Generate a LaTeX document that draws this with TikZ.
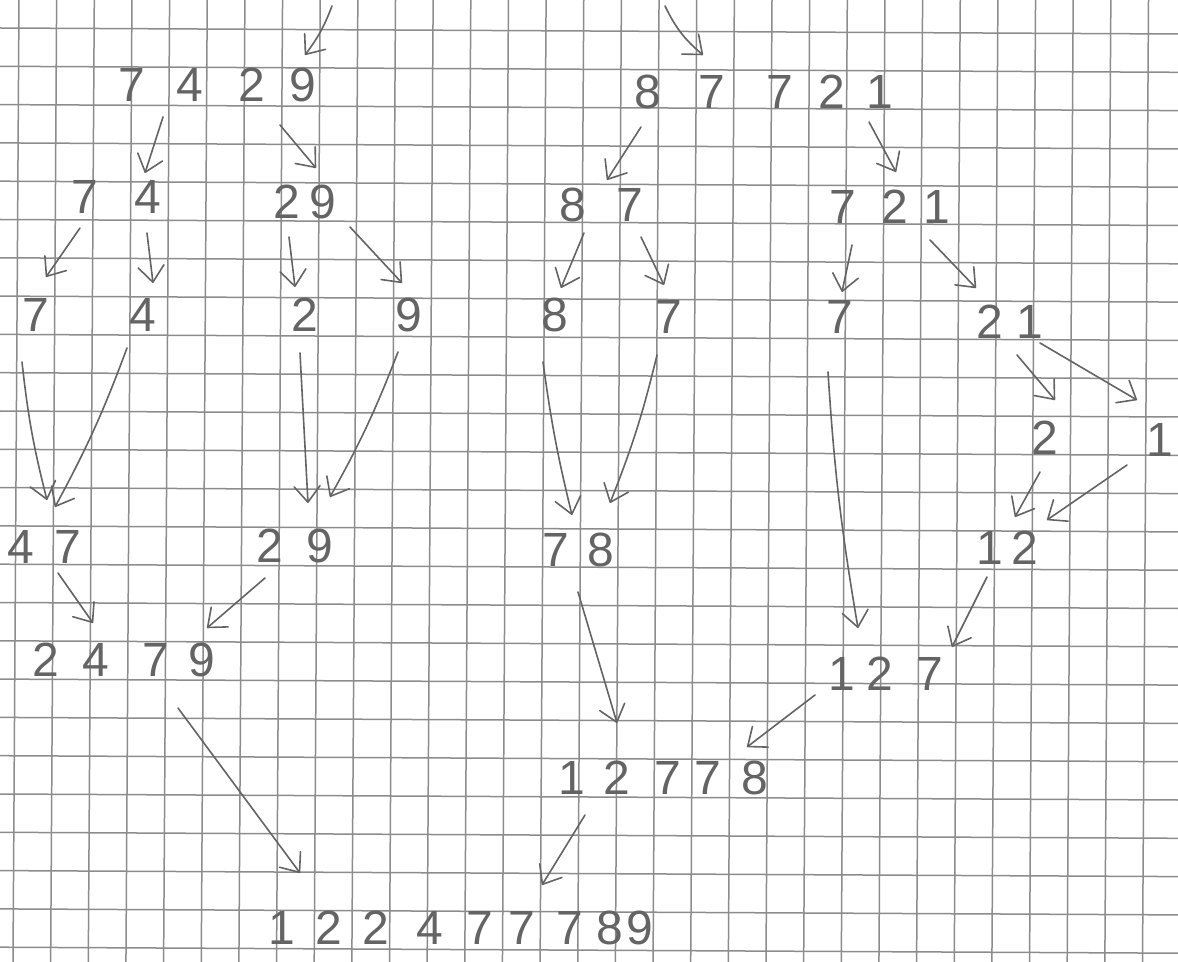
\documentclass[tikz,border=0pt]{standalone}
\usepackage{fontspec}
\setmainfont{Liberation Sans}
\usetikzlibrary{arrows.meta}
\definecolor{pen}{RGB}{100,100,100}
\definecolor{gridc}{RGB}{140,140,140}
\begin{document}
\begin{tikzpicture}[x=0.5pt,y=-0.5pt,
  num/.style={font=\fontsize{24}{24}\selectfont, text=pen, inner sep=0pt, anchor=center},
  arr/.style={draw=pen, line width=0.8pt, line cap=round, -{Straight Barb[length=8pt,width=13pt,round]}},
  gridline/.style={draw=gridc, line width=0.75pt}]
\useasboundingbox (0,0) rectangle (1178,962);
\fill[white] (0,0) rectangle (1178,962);
% squared paper
\foreach \k in {0,...,31} \draw[gridline] ({19+37.65*\k},0) -- ({13+37.65*\k},962);
\foreach \k in {-1,...,24} \draw[gridline] (0,{28+38.3*\k}) -- (1178,{34+38.3*\k});

% numbers
\node[num] (n7429)  at (217.5,85) {7\hspace{15.7pt}4\hspace{17.7pt}2\hspace{12.2pt}9};
\node[num] (n87721) at (764,92)   {8\hspace{18.7pt}7\hspace{20.7pt}7\hspace{12.7pt}2\hspace{10.7pt}1};
\node[num] (n74)    at (116.5,197){7\hspace{18.2pt}4};
\node[num] (n29a)   at (305,202)  {2\hspace{4.7pt}9};
\node[num] (n87)    at (601.5,205){8\hspace{15.2pt}7};
\node[num] (n721)   at (890,207)  {7\hspace{12.7pt}2\hspace{7.7pt}1};
\node[num] (s7)     at (36,315)   {7};
\node[num] (s4)     at (143,315)  {4};
\node[num] (s2)     at (305,315)  {2};
\node[num] (s9)     at (409,315)  {9};
\node[num] (s8)     at (555,315)  {8};
\node[num] (s7b)    at (669,317)  {7};
\node[num] (s7c)    at (840,317)  {7};
\node[num] (n21)    at (1010,322) {2\hspace{6.7pt}1};
\node[num] (s2b)    at (1045,438) {2};
\node[num] (s1)     at (1160,440) {1};
\node[num] (n12)    at (1007,548) {1\hspace{4.2pt}2};
\node[num] (n47)    at (44.5,547) {4\hspace{10.2pt}7};
\node[num] (n29b)   at (295,546)  {2\hspace{11.7pt}9};
\node[num] (n78)    at (578.5,550){7\hspace{9.2pt}8};
\node[num] (n2479)  at (124,660)  {2\hspace{11.7pt}4\hspace{16.7pt}7\hspace{9.7pt}9};
\node[num] (n127)   at (886,674)  {1\hspace{5.7pt}2\hspace{11.7pt}7};
\node[num] (n12778) at (663.5,778){1\hspace{9.2pt}2\hspace{12.2pt}7\hspace{6.7pt}7\hspace{10.2pt}8};
\node[num] (nfinal) at (461,928)  {1\hspace{10.2pt}2\hspace{10.2pt}2\hspace{13.7pt}4\hspace{11.7pt}7\hspace{7.7pt}7\hspace{10.7pt}7\hspace{6.7pt}8\hspace{1.7pt}9};

\coordinate (inA) at (332,6);
\coordinate (inB) at (665,6);

% arrows
\draw[arr] (inA) to[bend left=8] ([shift={(87.5,-30)}]n7429.center);
\draw[arr] (inB) to[bend right=12] ([shift={(-61,-37)}]n87721.center);
\draw[arr] ([shift={(-54.5,32)}]n7429.center) -- ([shift={(28.5,-24)}]n74.center);
\draw[arr] ([shift={(62.5,40)}]n7429.center) -- ([shift={(11,-34)}]n29a.center);
\draw[arr] ([shift={(-36.5,31)}]n74.center) -- ([shift={(10,-38)}]s7.center);
\draw[arr] ([shift={(30.5,36)}]n74.center) -- ([shift={(10,-32)}]s4.center);
\draw[arr] ([shift={(-16,35)}]n29a.center) -- ([shift={(-10,-28)}]s2.center);
\draw[arr] ([shift={(45,25)}]n29a.center) -- ([shift={(-7,-32)}]s9.center);
\draw[arr] ([shift={(-123,35)}]n87721.center) -- ([shift={(5.5,-25)}]n87.center);
\draw[arr] ([shift={(105,30)}]n87721.center) -- ([shift={(6,-35)}]n721.center);
\draw[arr] ([shift={(-17.5,28)}]n87.center) -- ([shift={(6,-27)}]s8.center);
\draw[arr] ([shift={(39.5,32)}]n87.center) -- ([shift={(-5,-32)}]s7b.center);
\draw[arr] ([shift={(-38,38)}]n721.center) -- ([shift={(2,-25)}]s7c.center);
\draw[arr] ([shift={(40,33)}]n721.center) -- ([shift={(-34,-34)}]n21.center);
\draw[arr] ([shift={(7,33)}]n21.center) -- ([shift={(10,-38)}]s2b.center);
\draw[arr] ([shift={(30,21)}]n21.center) -- ([shift={(-23,-40)}]s1.center);
\draw[arr] ([shift={(-5,34)}]s2b.center) -- ([shift={(8,-31)}]n12.center);
\draw[arr] ([shift={(-33,25)}]s1.center) -- ([shift={(40,-28)}]n12.center);
\draw[arr] ([shift={(-14,47)}]s7.center) to[bend right=4] ([shift={(2.5,-47)}]n47.center);
\draw[arr] ([shift={(-16,33)}]s4.center) to[bend left=4] ([shift={(10.5,-40)}]n47.center);
\draw[arr] ([shift={(-5,38)}]s2.center) -- ([shift={(13,-43)}]n29b.center);
\draw[arr] ([shift={(-11,37)}]s9.center) to[bend left=4] ([shift={(35,-49)}]n29b.center);
\draw[arr] ([shift={(-12,47)}]s8.center) to[bend right=3] ([shift={(-6.5,-35)}]n78.center);
\draw[arr] ([shift={(-12,38)}]s7b.center) to[bend left=4] ([shift={(31.5,-47)}]n78.center);
\draw[arr] ([shift={(-12,55)}]s7c.center) to[bend right=3] ([shift={(-28,-46)}]n127.center);
\draw[arr] ([shift={(-20,29)}]n12.center) -- ([shift={(66,-27)}]n127.center);
\draw[arr] ([shift={(13.5,26)}]n47.center) -- ([shift={(-31,-37)}]n2479.center);
\draw[arr] ([shift={(-30,32)}]n29b.center) -- ([shift={(83,-32)}]n2479.center);
\draw[arr] ([shift={(-0.5,42)}]n78.center) -- ([shift={(-46.5,-55)}]n12778.center);
\draw[arr] ([shift={(-71,21)}]n127.center) -- ([shift={(83.5,-31)}]n12778.center);
\draw[arr] ([shift={(54,48)}]n2479.center) -- ([shift={(-161,-55)}]nfinal.center);
\draw[arr] ([shift={(-78.5,37)}]n12778.center) -- ([shift={(81,-43)}]nfinal.center);
\end{tikzpicture}
\end{document}
